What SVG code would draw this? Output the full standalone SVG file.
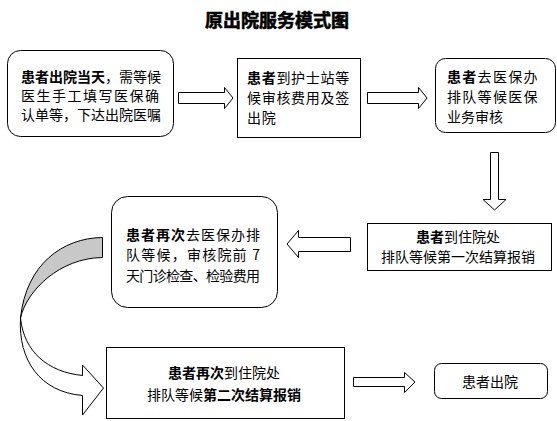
<svg xmlns="http://www.w3.org/2000/svg" width="557" height="421" viewBox="0 0 557 421">
<style>
  .t { font-family: "Noto Sans CJK SC", "Noto Sans", sans-serif; font-size: 14px; fill: #000; }
  .b { font-weight: bold; }
  .title { font-family: "Noto Sans CJK SC", "Noto Sans", sans-serif; font-size: 18px; font-weight: bold; fill: #000; stroke: #000; stroke-width: 0.6; }
  .box { fill: #fff; stroke: #000; stroke-width: 1; }
  .arr { fill: #fff; stroke: #000; stroke-width: 1; stroke-linejoin: miter; }
</style>
<rect width="557" height="421" fill="#fff"/>
<text class="title" x="277" y="27" text-anchor="middle">原出院服务模式图</text>

<g id="connectors">
  <path class="arr" d="M178.5,92.5 H224.5 V87.5 L233,98 L224.5,108.5 V103.5 H178.5 Z"/>
  <path class="arr" d="M367.5,92.5 H418.5 V87.5 L427,98 L418.5,108.5 V103.5 H367.5 Z"/>
  <path class="arr" d="M490.5,152.5 H498.5 V199.5 H506 L494.5,210 L483,199.5 H490.5 Z"/>
  <path class="arr" d="M350.5,237.5 H298.5 V230.5 L287,244 L298.5,257.5 V251.5 H350.5 Z"/>
  <path class="arr" d="M353.5,377.5 H404.5 V372.5 L415,382 L404.5,392.5 V386.5 H353.5 Z"/>
  <path d="M102.5,237.5 C62,238 26,265 20.5,318 C27,290 60,258 102.5,257.5 Z" fill="#c8c8c8" stroke="#000" stroke-width="1"/>
  <path class="arr" d="M20.5,318 C18,360 40,392 82.5,395.5 V415 L103.5,388 L82.5,365 V375.5 C48,372 24,352 20.5,318 Z"/>
</g>

<g id="n1">
  <rect class="box" x="7.5" y="50.5" width="166" height="86" rx="13"/>
  <text class="t" x="21" y="82"><tspan class="b">患者出院当天</tspan>，需等候</text>
  <text class="t" x="21" y="101" textLength="138" lengthAdjust="spacing">医生手工填写医保确</text>
  <text class="t" x="21" y="120">认单等，下达出院医嘱</text>
</g>

<g id="n2">
  <rect class="box" x="237.5" y="58.5" width="123" height="79"/>
  <text class="t" x="247" y="83" letter-spacing="0.7"><tspan class="b">患者</tspan>到护士站等</text>
  <text class="t" x="247" y="103" letter-spacing="0.7">候审核费用及签</text>
  <text class="t" x="247" y="123" letter-spacing="0.7">出院</text>
</g>

<g id="n3">
  <rect class="box" x="435.5" y="58.5" width="120" height="74" rx="10"/>
  <text class="t" x="447" y="82" letter-spacing="1.3"><tspan class="b">患者</tspan>去医保办</text>
  <text class="t" x="447" y="102" letter-spacing="1.3">排队等候医保</text>
  <text class="t" x="447" y="122">业务审核</text>
</g>

<g id="n4">
  <rect class="box" x="367.5" y="223.5" width="184" height="47"/>
  <text class="t" x="458" y="242" text-anchor="middle"><tspan class="b">患者</tspan>到住院处</text>
  <text class="t" x="458" y="262" text-anchor="middle">排队等候第一次结算报销</text>
</g>

<g id="n5">
  <rect class="box" x="111.5" y="196.5" width="166" height="111" rx="16"/>
  <text class="t" x="126" y="240" textLength="134" lengthAdjust="spacing"><tspan class="b">患者再次</tspan>去医保办排</text>
  <text class="t" x="126" y="260" textLength="134" lengthAdjust="spacing">队等候，审核院前 7</text>
  <text class="t" x="126" y="281" textLength="134" lengthAdjust="spacing">天门诊检查、检验费用</text>
</g>

<g id="n6">
  <rect class="box" x="106.5" y="347.5" width="238" height="71"/>
  <text class="t" x="224" y="378" text-anchor="middle"><tspan class="b">患者再次</tspan>到住院处</text>
  <text class="t" x="224" y="400" text-anchor="middle">排队等候<tspan class="b">第二次结算报销</tspan></text>
</g>

<g id="n7">
  <rect class="box" x="434.5" y="363.5" width="113" height="35" rx="7"/>
  <text class="t" x="490" y="387" text-anchor="middle">患者出院</text>
</g>
</svg>
